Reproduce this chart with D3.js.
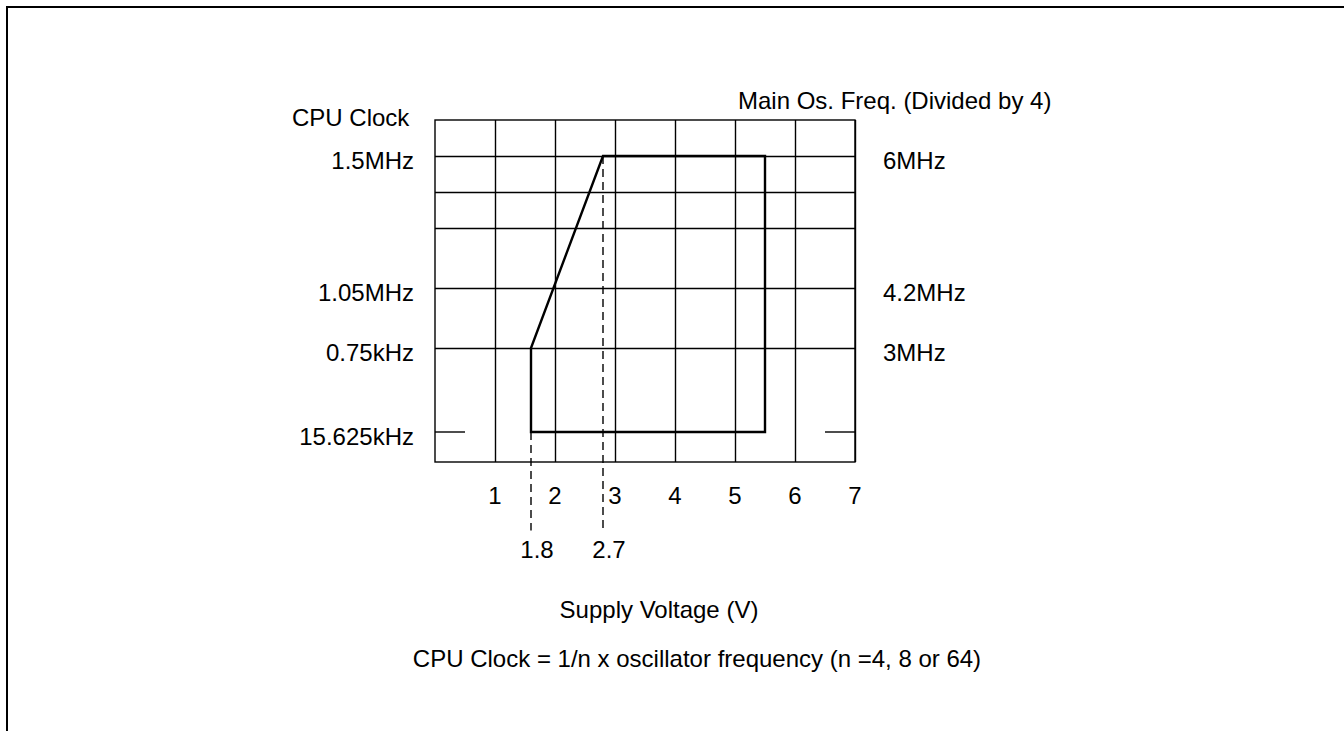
<!DOCTYPE html>
<html>
<head>
<meta charset="utf-8">
<script src="https://cdn.jsdelivr.net/npm/d3@7"></script>
<style>
  html, body { margin: 0; padding: 0; background: #fff; }
  svg { display: block; }
  text { font-family: "Liberation Sans", Arial, Helvetica, sans-serif; fill: #000; }
</style>
</head>
<body>
<svg id="chart" width="1344" height="731"></svg>
<script>
// ---- data ----
// x: supply voltage (V); y: schematic grid level (15.625 kHz level = 0)
const voltageTicks = [1, 2, 3, 4, 5, 6, 7];
const voltageTickLabels = ["1", "2", "3", "4", "5", "6", "7"];
const gridLevels = [7, 12, 17, 20, 23];
const cpuClockLevels = [0, 7, 12, 23];
const cpuClockLabels = ["15.625kHz", "0.75kHz", "1.05MHz", "1.5MHz"];
const oscLevels = [7, 12, 23];
const oscLabels = ["3MHz", "4.2MHz", "6MHz"];
const boundaryVoltage = [1.6, 1.6, 2.8, 5.5, 5.5];
const boundaryLevel = [0, 7, 23, 23, 0];
const markerVoltage = [1.6, 2.8];
const markerTopLevel = [0, 23];
const markerLabels = ["1.8", "2.7"];
const edgeMarks = [[0, 0.5], [6.5, 7]];

// ---- layout ----
const svg = d3.select("#chart");
const x = d3.scaleLinear().domain([0, 7]).range([435, 855]);
const y = d3.scaleLinear().domain([-2.5, 26]).range([462, 120]);
const FS = 24;

// page frame
svg.append("path")
  .attr("d", "M7,731 L7,7 L1344,7")
  .attr("fill", "none").attr("stroke", "#000").attr("stroke-width", 2);

const g = svg.append("g");

// grid: verticals via axis
const xGrid = d3.axisBottom(x).tickValues(voltageTicks).tickSize(-(y(-2.5) - y(26))).tickFormat("");
g.append("g").attr("transform", `translate(0,${y(-2.5)})`).call(xGrid)
  .call(s => s.select(".domain").remove())
  .selectAll("line").attr("stroke", "#000").attr("stroke-width", 1.4);

// grid: horizontals
const yGrid = d3.axisLeft(y).tickValues(gridLevels).tickSize(-(x(7) - x(0))).tickFormat("");
g.append("g").attr("transform", `translate(${x(0)},0)`).call(yGrid)
  .call(s => s.select(".domain").remove())
  .selectAll("line").attr("stroke", "#000").attr("stroke-width", 1.4);

// frame rect
g.append("rect")
  .attr("x", x(0)).attr("y", y(26))
  .attr("width", x(7) - x(0)).attr("height", y(-2.5) - y(26))
  .attr("fill", "none").attr("stroke", "#000").attr("stroke-width", 1.4);

// short marks at 15.625kHz level on both edges
g.selectAll("line.edge").data(edgeMarks).join("line")
  .attr("class", "edge")
  .attr("x1", d => x(d[0])).attr("x2", d => x(d[1]))
  .attr("y1", y(0)).attr("y2", y(0))
  .attr("stroke", "#000").attr("stroke-width", 1.4);

// dashed marker lines
const dashBottom = -8.2;
g.selectAll("line.marker").data(markerVoltage).join("line")
  .attr("class", "marker")
  .attr("x1", d => x(d)).attr("x2", d => x(d))
  .attr("y1", (d, i) => y(markerTopLevel[i])).attr("y2", y(dashBottom))
  .attr("stroke", "#000").attr("stroke-width", 1.4)
  .attr("stroke-dasharray", "8,5");

// operating boundary
const pts = boundaryVoltage.map((v, i) => [v, boundaryLevel[i]]);
g.append("path")
  .attr("d", d3.line().x(d => x(d[0])).y(d => y(d[1]))(pts) + "Z")
  .attr("fill", "none").attr("stroke", "#000").attr("stroke-width", 2.4)
  .attr("stroke-linejoin", "miter");

// x tick labels
g.selectAll("text.xt").data(voltageTicks).join("text")
  .attr("class", "xt")
  .attr("x", d => x(d)).attr("y", y(-2.5) + 42)
  .attr("text-anchor", "middle").attr("font-size", FS)
  .text((d, i) => voltageTickLabels[i]);

// marker labels
g.selectAll("text.ml").data(markerVoltage).join("text")
  .attr("class", "ml")
  .attr("x", d => x(d) + 6).attr("y", y(-2.5) + 96)
  .attr("text-anchor", "middle").attr("font-size", FS)
  .text((d, i) => markerLabels[i]);

// left labels
g.selectAll("text.yl").data(cpuClockLevels).join("text")
  .attr("class", "yl")
  .attr("x", x(0) - 21).attr("y", d => y(d) + 13)
  .attr("text-anchor", "end").attr("font-size", FS)
  .text((d, i) => cpuClockLabels[i]);

// right labels
g.selectAll("text.yr").data(oscLevels).join("text")
  .attr("class", "yr")
  .attr("x", x(7) + 28).attr("y", d => y(d) + 13)
  .attr("text-anchor", "start").attr("font-size", FS)
  .text((d, i) => oscLabels[i]);

// titles
svg.append("text").attr("x", 292).attr("y", 126).attr("font-size", FS).text("CPU Clock");
svg.append("text").attr("x", 738).attr("y", 109).attr("font-size", FS).text("Main Os. Freq. (Divided by 4)");
svg.append("text").attr("x", 659).attr("y", 618).attr("text-anchor", "middle").attr("font-size", FS).text("Supply Voltage (V)");
svg.append("text").attr("x", 697).attr("y", 667).attr("text-anchor", "middle").attr("font-size", FS)
  .text("CPU Clock = 1/n x oscillator frequency (n =4, 8 or 64)");
</script>
</body>
</html>
